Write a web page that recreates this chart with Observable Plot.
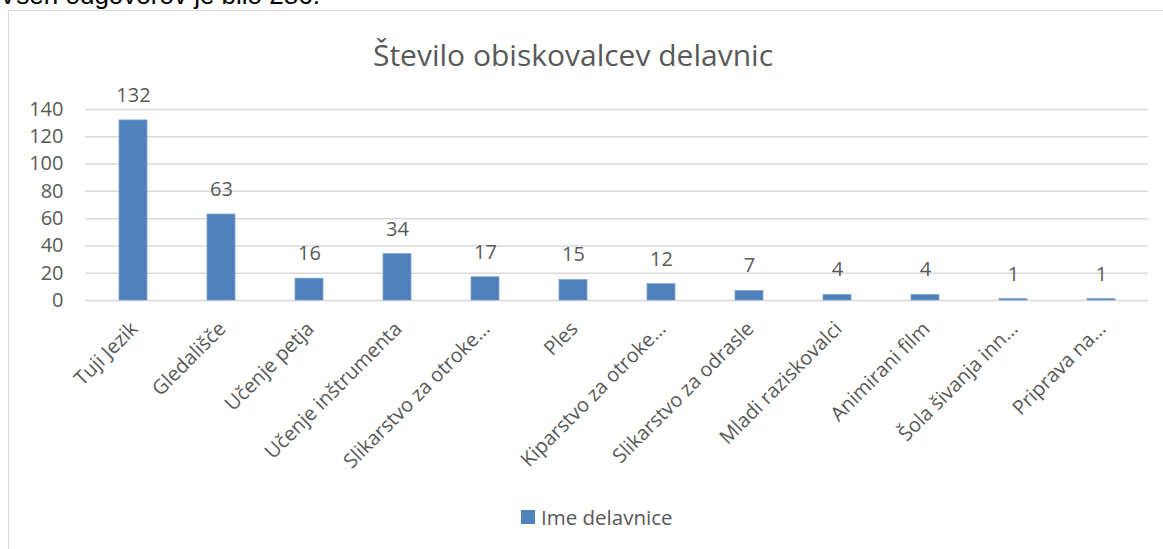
<!DOCTYPE html>
<html>
<head>
<meta charset="utf-8">
<script src="https://cdn.jsdelivr.net/npm/d3@7"></script>
<script src="https://cdn.jsdelivr.net/npm/@observablehq/plot@0.6"></script>
<style>
  html, body { margin: 0; padding: 0; background: #fff; overflow: hidden; }
  body { width: 1163px; height: 549px; position: relative; font-family: "Open Sans", "Liberation Sans", sans-serif; }
  #intro { position: absolute; left: -1px; top: -18px; font-family: "Liberation Sans", Arial, sans-serif; font-size: 26px; line-height: 1; color: #000; white-space: nowrap; }
  #frame { position: absolute; left: 8px; top: 10px; width: 1160px; height: 600px; border: 1px solid #d9d9d9; box-sizing: border-box; }
  #title { position: absolute; left: 0; width: 1146px; top: 34px; text-align: center; font-size: 30px; color: #595959; }
  #chart { position: absolute; left: 0; top: 0; }
  #legend { position: absolute; left: 521px; top: 503px; font-size: 20.5px; color: #595959; display: flex; align-items: center; }
  #legend .sw { width: 14px; height: 14px; background: #4f81bd; margin-right: 6px; }
</style>
</head>
<body>
<div id="intro">Vseh odgovorov je bilo 286.</div>
<div id="frame"></div>
<div id="title">Število obiskovalcev delavnic</div>
<div id="chart"></div>
<div id="legend"><div class="sw"></div><span>Ime delavnice</span></div>
<script>
const categories = ["Tuji Jezik", "Gledališče", "Učenje petja", "Učenje inštrumenta", "Slikarstvo za otroke…", "Ples", "Kiparstvo za otroke…", "Slikarstvo za odrasle", "Mladi raziskovalci", "Animirani film", "Šola šivanja inn…", "Priprava na…"];
const values = [132, 63, 16, 34, 17, 15, 12, 7, 4, 4, 1, 1];
const yTicks = [0, 20, 40, 60, 80, 100, 120, 140];
const seriesName = "Ime delavnice";

const data = categories.map((c, i) => ({category: c, value: values[i]}));

const plot = Plot.plot({
  width: 1163,
  height: 549,
  marginLeft: 85,
  marginRight: 15,
  marginTop: 109,
  marginBottom: 249,
  style: {fontFamily: "'Open Sans', 'Liberation Sans', sans-serif", background: "transparent"},
  x: {domain: categories, paddingInner: 0.685, paddingOuter: 0.3425, label: null},
  y: {domain: [0, 140], ticks: yTicks, label: null},
  marks: [
    Plot.gridY(yTicks, {stroke: "#d9d9d9", strokeOpacity: 1, strokeWidth: 1.5}),
    Plot.barY(data, {x: "category", y: "value", fill: "#4f81bd", stroke: "#7fa3d0", strokeWidth: 0.8}),
    Plot.text(data, {x: "category", y: "value", text: d => String(d.value), dy: -25, fontSize: 20, fill: "#595959"}),
    Plot.axisY(yTicks, {tickSize: 0, tickPadding: 22, fontSize: 20, color: "#595959", label: null}),
    Plot.axisX({tickSize: 0, tickRotate: -45, fontSize: 20, color: "#595959", label: null, tickPadding: 25, dx: 1})
  ]
});
document.getElementById("chart").appendChild(plot);
</script>
</body>
</html>
